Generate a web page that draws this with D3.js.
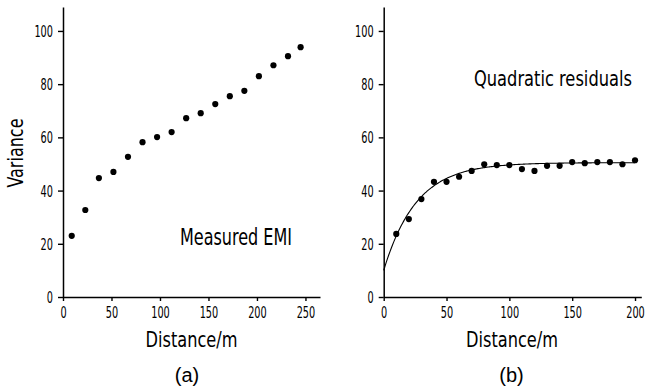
<!DOCTYPE html>
<html>
<head>
<meta charset="utf-8">
<script src="https://cdn.jsdelivr.net/npm/d3@7"></script>
<style>
  html, body { margin: 0; padding: 0; background: #fff; }
  svg { display: block; }
  .narrow { font-family: "Liberation Sans Narrow", "DejaVu Sans Condensed", "Liberation Sans", sans-serif; fill: #000; }
</style>
</head>
<body>
<svg id="chart" width="645" height="389"></svg>
<script>
// ---- Data ----
const distA = [9, 23, 37, 52, 67, 82, 97, 112, 127, 142, 157, 172, 187, 202, 217, 232, 245];
const varA  = [23.0, 32.7, 44.7, 47.0, 52.7, 58.2, 60.1, 62.0, 67.2, 69.1, 72.5, 75.5, 77.5, 83.0, 87.1, 90.5, 93.9];
const distB = [10, 20, 30, 40, 50, 60, 70, 80, 90, 100, 110, 120, 130, 140, 150, 160, 170, 180, 190, 200];
const varB  = [23.7, 29.3, 36.8, 43.3, 43.3, 45.2, 47.4, 49.9, 49.6, 49.6, 48.1, 47.4, 49.3, 49.3, 50.7, 50.3, 50.7, 50.7, 49.9, 51.4];
// fitted exponential model for panel (b)
const modelNugget = 10, modelSill = 40.5, modelRange = 26;
const yTicks = [0, 20, 40, 60, 80, 100];
const xTicksA = [0, 50, 100, 150, 200, 250];
const xTicksB = [0, 50, 100, 150, 200];
const labelA = "Measured EMI", labelB = "Quadratic residuals";
const xTitle = "Distance/m", yTitle = "Variance";
const panelA = "(a)", panelB = "(b)";

const svg = d3.select("#chart");

function panel(cfg) {
  const x = d3.scaleLinear().domain(cfg.xDomain).range(cfg.xRange);
  const y = d3.scaleLinear().domain([0, 109]).range([297, 7]);
  const g = svg.append("g");

  // y axis
  const ya = g.append("g").attr("transform", `translate(${cfg.xRange[0]},0)`)
    .call(d3.axisLeft(y).tickValues(yTicks).tickSize(5).tickPadding(5).tickSizeOuter(0));
  // x axis
  const xa = g.append("g").attr("transform", `translate(0,${y(0)})`)
    .call(d3.axisBottom(x).tickValues(cfg.xTicks).tickSize(4).tickPadding(6).tickSizeOuter(0));

  [ya, xa].forEach(a => {
    a.select(".domain").attr("stroke", "#000").attr("stroke-width", 1.5);
    a.selectAll(".tick line").attr("stroke", "#000").attr("stroke-width", 1.4);
    a.selectAll(".tick text")
      .attr("class", "narrow")
      .style("font-size", "15.5px")
      .attr("fill", "#000")
      .attr("textLength", d => String(d).length * 6.2)
      .attr("lengthAdjust", "spacingAndGlyphs");
  });
  ya.selectAll(".tick text").attr("dy", "0.36em");
  xa.selectAll(".tick text").attr("dy", "0.71em").attr("y", 10);

  // points
  g.append("g").selectAll("circle").data(cfg.xs.map((d, i) => [d, cfg.ys[i]]))
    .join("circle")
    .attr("cx", d => x(d[0])).attr("cy", d => y(d[1])).attr("r", 3.1).attr("fill", "#000");

  if (cfg.model) {
    const hs = d3.range(0, 201, 1);
    const line = d3.line().x(h => x(h)).y(h => y(cfg.model(h))).curve(d3.curveBasis);
    g.append("path").attr("d", line(hs)).attr("fill", "none").attr("stroke", "#000").attr("stroke-width", 1.1);
  }

  // in-plot label
  g.append("text").attr("class", "narrow")
    .attr("x", cfg.label.x).attr("y", cfg.label.y)
    .style("font-size", cfg.label.size + "px")
    .attr("textLength", cfg.label.w).attr("lengthAdjust", "spacingAndGlyphs")
    .text(cfg.label.text);

  // x title
  g.append("text").attr("class", "narrow")
    .attr("x", cfg.titleX).attr("y", 347)
    .attr("text-anchor", "middle")
    .style("font-size", "21px")
    .attr("textLength", 92).attr("lengthAdjust", "spacingAndGlyphs")
    .text(xTitle);

  // panel letter
  g.append("text")
    .attr("x", cfg.letterX).attr("y", 382)
    .attr("text-anchor", "middle")
    .style("font-family", "'Liberation Sans', Arial, sans-serif")
    .style("font-size", "20px")
    .attr("fill", "#000")
    .text(cfg.letter);

  return { x, y };
}

panel({
  xDomain: [0, 265], xRange: [63, 320], xTicks: xTicksA,
  xs: distA, ys: varA,
  label: { text: labelA, x: 180, y: 245, size: 23, w: 112 },
  titleX: 191.5, letterX: 187, letter: panelA
});

panel({
  xDomain: [0, 205], xRange: [383.7, 641.3], xTicks: xTicksB,
  xs: distB, ys: varB,
  model: h => modelNugget + modelSill * (1 - Math.exp(-h / modelRange)),
  label: { text: labelB, x: 474, y: 86, size: 21, w: 158 },
  titleX: 512, letterX: 511.5, letter: panelB
});

// y title (only on panel a)
svg.append("text").attr("class", "narrow")
  .attr("transform", "translate(23,153) rotate(-90)")
  .attr("text-anchor", "middle")
  .style("font-size", "21px")
  .attr("textLength", 69).attr("lengthAdjust", "spacingAndGlyphs")
  .text(yTitle);
</script>
</body>
</html>
